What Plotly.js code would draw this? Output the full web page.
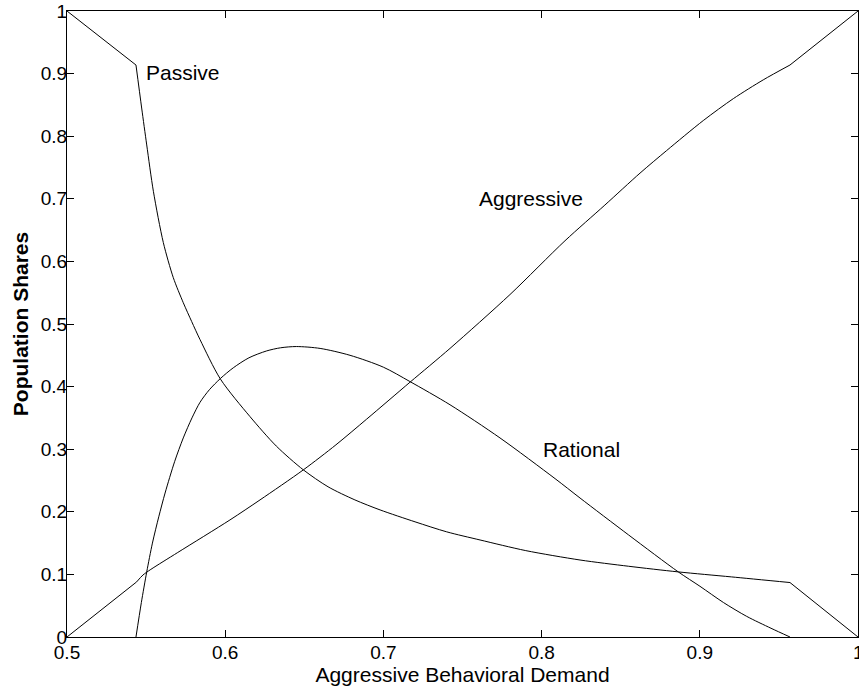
<!DOCTYPE html>
<html>
<head>
<meta charset="utf-8">
<script src="https://cdn.plot.ly/plotly-3.0.1.min.js"></script>
<style>html,body{margin:0;padding:0;background:#fff;}#chart{width:859px;height:688px;}</style>
</head>
<body>
<div id="chart"></div>
<script>
// Passive share
const passiveX = [0.5, 0.5436, 0.5472, 0.5504, 0.5546, 0.5609, 0.5672, 0.5735, 0.5788, 0.5841, 0.597, 0.6157, 0.6323, 0.6494, 0.665, 0.682, 0.6979, 0.72, 0.74, 0.7611, 0.79, 0.8243, 0.855, 0.8864, 0.92, 0.957, 1.0];
const passiveY = [1.0, 0.9137, 0.845, 0.786, 0.712, 0.630, 0.574, 0.534, 0.504, 0.475, 0.412, 0.352, 0.305, 0.267, 0.240, 0.219, 0.203, 0.184, 0.168, 0.155, 0.138, 0.123, 0.113, 0.104, 0.096, 0.087, 0.0];
// Aggressive share
const aggressiveX = [0.5, 0.544, 0.548, 0.553, 0.57, 0.603, 0.622, 0.6494, 0.67, 0.6894, 0.7168, 0.7421, 0.78, 0.8148, 0.84, 0.8622, 0.879, 0.9022, 0.9212, 0.9401, 0.957, 1.0];
const aggressiveY = [0.0, 0.088, 0.099, 0.108, 0.135, 0.187, 0.219, 0.267, 0.307, 0.348, 0.407, 0.461, 0.547, 0.633, 0.690, 0.741, 0.777, 0.825, 0.860, 0.890, 0.9137, 1.0];
// Rational share
const rationalX = [0.5436, 0.547, 0.5504, 0.554, 0.558, 0.562, 0.568, 0.5735, 0.579, 0.5841, 0.59, 0.597, 0.6051, 0.615, 0.6262, 0.635, 0.645, 0.66, 0.6789, 0.70, 0.7168, 0.7421, 0.7737, 0.8085, 0.8243, 0.855, 0.8864, 0.9001, 0.915, 0.9296, 0.945, 0.957];
const rationalY = [0.0, 0.055, 0.104, 0.150, 0.192, 0.230, 0.280, 0.318, 0.350, 0.375, 0.395, 0.413, 0.430, 0.446, 0.457, 0.462, 0.464, 0.461, 0.450, 0.431, 0.408, 0.371, 0.318, 0.253, 0.222, 0.163, 0.104, 0.081, 0.055, 0.033, 0.014, 0.0];

const xTickVals = [0.5, 0.6, 0.7, 0.8, 0.9, 1.0];
const xTickText = ['0.5', '0.6', '0.7', '0.8', '0.9', '1'];
const yTickVals = [0, 0.1, 0.2, 0.3, 0.4, 0.5, 0.6, 0.7, 0.8, 0.9, 1.0];
const yTickText = ['0', '0.1', '0.2', '0.3', '0.4', '0.5', '0.6', '0.7', '0.8', '0.9', '1'];

const labels = [
  {text: 'Passive', x: 0.5485, y: 0.901},
  {text: 'Aggressive', x: 0.7592, y: 0.701},
  {text: 'Rational', x: 0.7995, y: 0.300}
];

const FONT = 'Liberation Sans, Arial, Helvetica, sans-serif';
const lineStyle = {color: '#000', width: 1};

// split a curve at its kinks: straight pieces stay straight, the rest is smoothed
function pieces(xs, ys, kinks) {
  const out = [];
  const cuts = [0].concat(kinks, [xs.length - 1]);
  for (let i = 0; i < cuts.length - 1; i++) {
    const a = cuts[i], b = cuts[i + 1];
    const straight = (b - a) === 1;
    out.push({
      x: xs.slice(a, b + 1), y: ys.slice(a, b + 1), mode: 'lines',
      line: Object.assign({}, lineStyle, straight ? {shape: 'linear'} : {shape: 'spline', smoothing: 0.8}),
      hoverinfo: 'skip'
    });
  }
  return out;
}

const traces = []
  .concat(pieces(passiveX, passiveY, [1, passiveX.length - 2]))
  .concat(pieces(aggressiveX, aggressiveY, [1, aggressiveX.length - 2]))
  .concat(pieces(rationalX, rationalY, []));

const axisCommon = {
  showline: true, linecolor: '#000', linewidth: 1, mirror: 'ticks',
  ticks: 'inside', ticklen: 7, tickcolor: '#000', tickwidth: 1,
  showgrid: false, zeroline: false,
  tickfont: {family: FONT, size: 19, color: '#000'}
};

const layout = {
  width: 859, height: 688,
  margin: {l: 67, r: 1, t: 11, b: 51},
  paper_bgcolor: '#fff', plot_bgcolor: '#fff',
  showlegend: false,
  font: {family: FONT, color: '#000'},
  xaxis: Object.assign({}, axisCommon, {
    range: [0.5, 1.0], tickmode: 'array', tickvals: xTickVals, ticktext: xTickText,
    ticklabelstandoff: -2,
    title: {text: 'Aggressive Behavioral Demand', font: {family: FONT, size: 21, color: '#000'}, standoff: 0}
  }),
  yaxis: Object.assign({}, axisCommon, {
    range: [0, 1.0], tickmode: 'array', tickvals: yTickVals, ticktext: yTickText,
    ticklabelstandoff: -5,
    title: {text: '<b>Population Shares</b>', font: {family: FONT, size: 21, color: '#000'}, standoff: 6}
  }),
  annotations: labels.map(l => ({
    text: l.text, x: l.x, y: l.y, xref: 'x', yref: 'y',
    xanchor: 'left', yanchor: 'middle', showarrow: false,
    font: {family: FONT, size: 21, color: '#000'}
  })).concat([{
    // last x tick label, partly cut off by the right edge as in the reference
    text: xTickText[xTickText.length - 1], x: xTickVals[xTickVals.length - 1], xref: 'x',
    y: 0, yref: 'paper', yanchor: 'top', xanchor: 'center', yshift: -3,
    showarrow: false, font: {family: FONT, size: 19, color: '#000'}
  }])
};

Plotly.newPlot('chart', traces, layout, {displayModeBar: false, staticPlot: true});
</script>
</body>
</html>
